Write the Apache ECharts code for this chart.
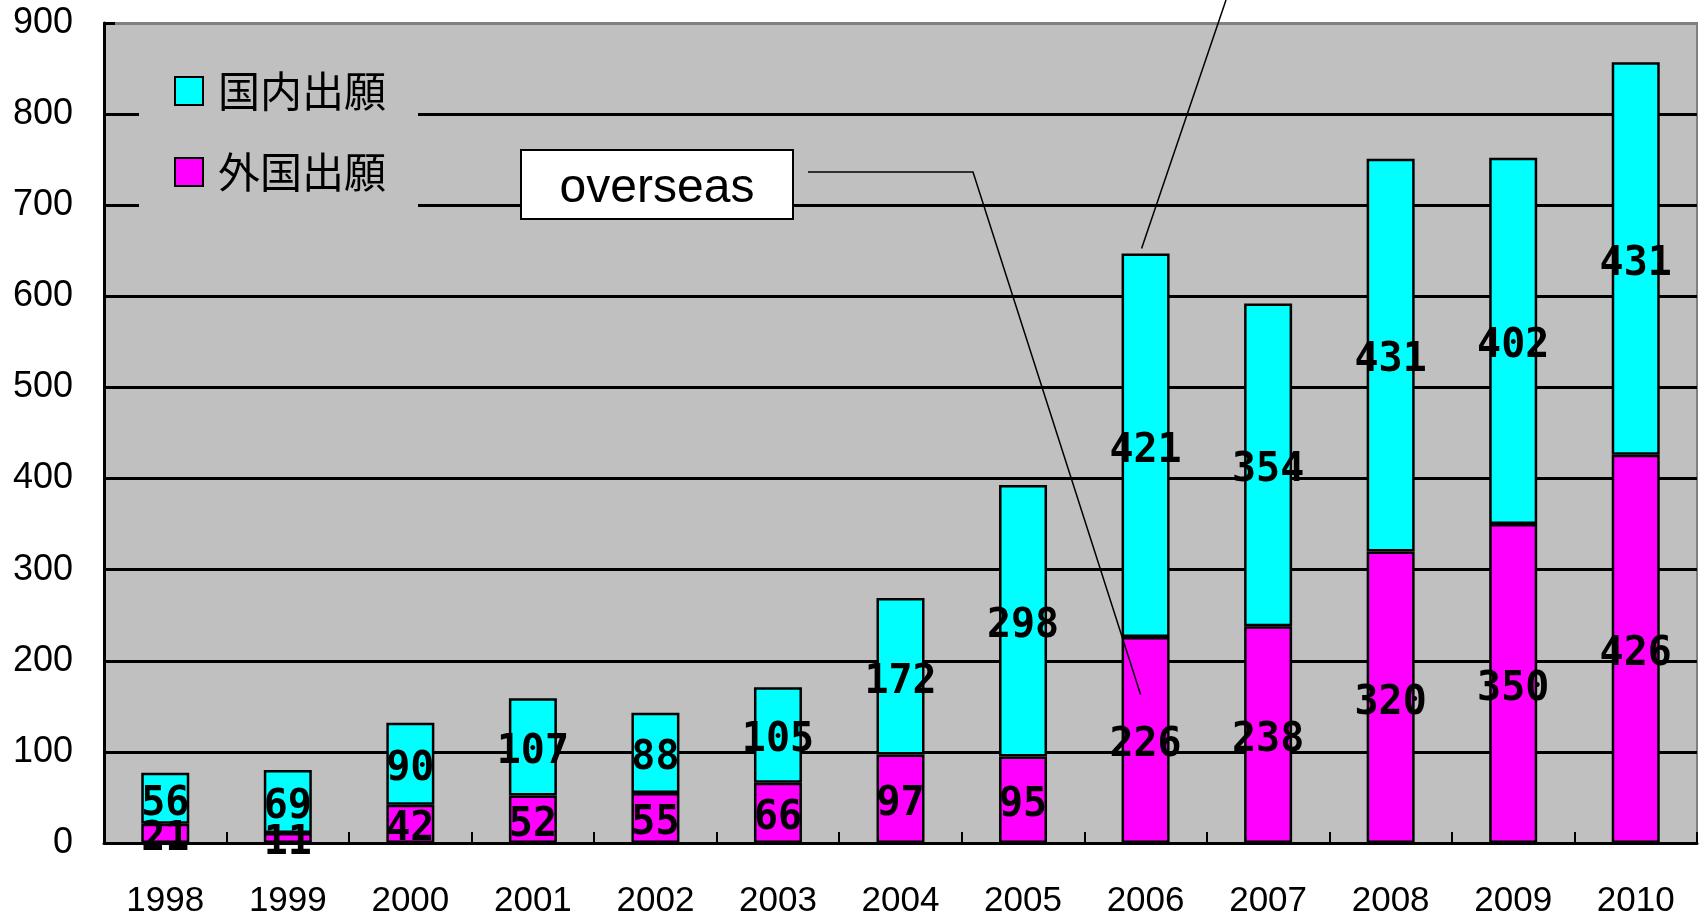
<!DOCTYPE html>
<html>
<head>
<meta charset="utf-8">
<script src="https://cdn.jsdelivr.net/npm/echarts@6/dist/echarts.min.js"></script>
<style>
  html, body { margin: 0; padding: 0; background: #ffffff; }
  #chart { width: 1708px; height: 919px; }
</style>
</head>
<body>
<div id="chart"></div>
<script>
// Patent applications per year: domestic (国内出願) stacked on overseas (外国出願)
const years = ['1998', '1999', '2000', '2001', '2002', '2003', '2004', '2005', '2006', '2007', '2008', '2009', '2010'];
const overseas = [21, 11, 42, 52, 55, 66, 97, 95, 226, 238, 320, 350, 426];
const domestic = [56, 69, 90, 107, 88, 105, 172, 298, 421, 354, 431, 402, 431];
const yMin = 0, yMax = 900, yStep = 100;

// Callout targets on the 2006 column (category, value)
const domesticCallout = { year: '2006', value: overseas[8] + domestic[8] };
const overseasCallout = { year: '2006', value: 163 };

const numFont = "'Liberation Sans', Arial, sans-serif";
const labelFont = "'DejaVu Sans Mono', monospace";
const jpFont = "'Noto Sans CJK JP', sans-serif";

const chart = echarts.init(document.getElementById('chart'), null, { renderer: 'canvas' });

// gridlines are black; the 900 line doubles as the grey top frame
const splitColors = [];
for (let v = yMin; v <= yMax; v += yStep) splitColors.push(v === yMax ? '#808080' : '#000000');

const barLabel = {
  show: true,
  position: 'inside',
  offset: [0, 6],
  color: '#000000',
  fontFamily: labelFont,
  fontWeight: 'bold',
  fontSize: 40
};

chart.setOption({
  animation: false,
  backgroundColor: '#ffffff',
  grid: {
    left: 104, right: 11, top: 23, bottom: 75,
    show: true,
    backgroundColor: '#c0c0c0',
    borderColor: '#808080',
    borderWidth: 2
  },
  legend: {
    orient: 'vertical',
    left: 139,
    top: 55,
    padding: [15, 32, 25, 35],
    backgroundColor: '#c0c0c0',
    itemWidth: 28,
    itemHeight: 28,
    itemGap: 39,
    icon: 'rect',
    data: ['国内出願', '外国出願'],
    textStyle: {
      fontFamily: jpFont,
      fontSize: 42,
      color: '#000000',
      padding: [0, 0, 0, 10]
    },
    z: 5
  },
  xAxis: {
    type: 'category',
    data: years,
    axisLine: { lineStyle: { color: '#000000', width: 3 } },
    axisTick: { show: true, inside: true, length: 11, lineStyle: { color: '#000000', width: 2 } },
    axisLabel: { color: '#000000', fontFamily: numFont, fontSize: 35, margin: 41 },
    splitLine: { show: false }
  },
  yAxis: {
    type: 'value',
    min: yMin,
    max: yMax,
    interval: yStep,
    axisLine: { show: true, lineStyle: { color: '#000000', width: 3 } },
    axisTick: { show: true, inside: true, length: 11, lineStyle: { color: '#000000', width: 3 } },
    axisLabel: { color: '#000000', fontFamily: numFont, fontSize: 36, margin: 31 },
    splitLine: { show: true, lineStyle: { color: splitColors, width: 3 } }
  },
  series: [
    {
      name: '外国出願',
      type: 'bar',
      stack: 'total',
      barWidth: 48,
      data: overseas,
      itemStyle: { color: '#ff00ff', borderColor: '#000000', borderWidth: 2.5 },
      label: barLabel,
      z: 2
    },
    {
      name: '国内出願',
      type: 'bar',
      stack: 'total',
      barWidth: 48,
      data: domestic,
      itemStyle: { color: '#00ffff', borderColor: '#000000', borderWidth: 2.5 },
      label: barLabel,
      z: 2
    }
  ]
});

// Leader lines and the "overseas" call-out box, anchored to the 2006 column
const topPt = chart.convertToPixel({ gridIndex: 0 }, [domesticCallout.year, domesticCallout.value]);
const ovPt = chart.convertToPixel({ gridIndex: 0 }, [overseasCallout.year, overseasCallout.value]);

const box = { x: 521, y: 150, w: 272, h: 69 };

chart.setOption({
  graphic: [
    {
      type: 'polyline',
      z: 100,
      silent: true,
      shape: { points: [[1226, 0], [topPt[0] - 4, topPt[1] - 5]] },
      style: { stroke: '#000000', lineWidth: 1.5, fill: null }
    },
    {
      type: 'polyline',
      z: 100,
      silent: true,
      shape: { points: [[box.x + box.w + 15, 172], [973, 172], [ovPt[0] - 5, ovPt[1]]] },
      style: { stroke: '#000000', lineWidth: 1.5, fill: null }
    },
    {
      type: 'rect',
      z: 100,
      silent: true,
      shape: { x: box.x, y: box.y, width: box.w, height: box.h },
      style: { fill: '#ffffff', stroke: '#000000', lineWidth: 2 }
    },
    {
      type: 'text',
      z: 101,
      silent: true,
      x: box.x + box.w / 2,
      y: box.y + box.h / 2 + 4,
      style: {
        text: 'overseas',
        fill: '#000000',
        font: '48px ' + numFont,
        align: 'center',
        verticalAlign: 'middle'
      }
    }
  ]
});
</script>
</body>
</html>
